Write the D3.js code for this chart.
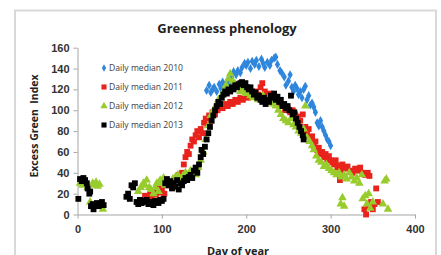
<!DOCTYPE html>
<html>
<head>
<meta charset="utf-8">
<script src="https://cdn.jsdelivr.net/npm/d3@7"></script>
<style>
  body { margin: 0; background: #fff; }
  svg { display: block; font-family: "Open Sans", "Noto Sans", sans-serif; }
</style>
</head>
<body>
<div id="chart"></div>
<script>
// daily median excess green index, [day, value]
let s2010 = [[153,119],[156,124],[158,117],[160,120],[162,122],[165,118],[168,125],[170,121],[172,127],[175,124],[178,129],[180,126],[183,131],[185,137],[188,134],[190,138],[193,136],[195,141],[198,145],[200,143],[202,146],[205,140],[207,147],[210,144],[212,148],[215,142],[218,149],[220,145],[222,141],[225,146],[228,143],[230,148],[233,150],[235,151],[237,144],[240,138],[242,136],[245,132],[247,124],[250,128],[252,134],[254,122],[256,118],[258,124],[260,121],[262,115],[264,118],[266,112],[268,120],[270,123],[272,110],[274,114],[276,105],[278,107],[280,103],[282,98],[284,88],[286,85],[288,90],[290,84],[292,80],[294,76],[296,72],[298,70],[300,66]];

let s2011 = [[80,18],[83,15],[86,20],[88,17],[90,22],[93,19],[96,25],[98,21],[100,24],[103,20],[106,28],[110,30],[113,26],[116,33],[118,35],[120,38],[122,36],[124,40],[126,48],[128,55],[130,60],[132,58],[134,66],[136,72],[138,70],[140,76],[142,80],[144,74],[146,82],[148,78],[150,88],[152,92],[154,86],[156,95],[158,90],[160,98],[163,96],[166,100],[169,104],[172,102],[175,106],[178,104],[181,108],[184,106],[187,110],[190,108],[193,112],[196,110],[199,114],[202,112],[205,116],[208,113],[211,118],[214,115],[217,122],[219,126],[222,118],[225,114],[228,116],[231,110],[234,112],[237,106],[240,104],[243,106],[246,100],[249,102],[252,98],[255,100],[258,96],[261,94],[264,90],[267,96],[270,84],[272,78],[274,82],[276,72],[278,75],[280,66],[282,70],[284,62],[286,64],[288,58],[290,60],[292,55],[294,58],[296,53],[298,56],[300,52],[302,50],[304,48],[306,52],[308,45],[310,47],[311,33],[312,42],[314,48],[316,45],[318,44],[320,46],[323,42],[326,40],[329,44],[332,42],[335,45],[338,40],[341,38],[344,40],[346,37],[340,5],[342,0],[345,8],[348,12],[350,5],[352,10],[354,25],[356,12]];

let s2012 = [[3,30],[6,28],[9,32],[12,26],[15,12],[18,30],[20,28],[22,31],[24,27],[26,29],[28,8],[30,5],[72,22],[75,26],[78,30],[80,28],[82,33],[85,26],[87,24],[90,20],[92,26],[94,30],[96,22],[98,33],[100,30],[102,35],[104,28],[107,32],[110,30],[113,34],[116,36],[119,38],[122,34],[125,37],[128,40],[131,38],[134,42],[137,40],[140,38],[143,45],[146,52],[149,60],[152,72],[155,85],[158,95],[161,100],[164,104],[167,110],[170,112],[173,118],[176,124],[179,130],[181,135],[184,128],[187,125],[190,122],[193,118],[196,120],[199,116],[202,118],[205,114],[208,112],[211,115],[214,110],[217,112],[220,114],[223,110],[226,112],[229,108],[232,106],[235,104],[238,100],[241,96],[244,92],[247,90],[250,88],[253,92],[256,86],[259,84],[262,80],[265,78],[268,82],[270,104],[272,74],[275,70],[278,66],[280,62],[283,56],[286,52],[289,50],[292,46],[295,48],[298,44],[301,42],[304,40],[307,38],[310,40],[313,36],[316,38],[319,34],[322,40],[325,36],[328,32],[331,35],[334,30],[337,38],[312,10],[314,16],[316,8],[338,15],[341,18],[343,10],[345,20],[347,6],[350,12],[362,10],[364,32],[366,34],[368,5]];

let s2013 = [[1,15],[3,34],[5,32],[7,35],[9,33],[11,30],[12,25],[14,20],[15,22],[16,8],[18,10],[19,5],[21,9],[23,11],[25,8],[27,10],[29,12],[31,9],[58,17],[60,20],[62,15],[64,28],[66,26],[68,30],[70,12],[72,10],[74,14],[76,11],[78,13],[80,12],[82,14],[84,10],[86,12],[88,11],[90,9],[92,13],[94,12],[96,11],[98,14],[100,13],[102,15],[104,30],[106,34],[108,28],[110,32],[112,25],[114,30],[116,27],[118,33],[120,24],[122,30],[124,28],[126,32],[128,35],[130,33],[132,36],[134,38],[136,35],[138,42],[140,45],[142,40],[144,48],[146,55],[147,62],[149,58],[151,65],[153,72],[155,78],[157,84],[159,90],[161,95],[163,100],[165,104],[167,108],[169,106],[171,112],[173,115],[175,118],[177,116],[179,120],[181,118],[183,122],[185,120],[187,124],[189,122],[191,125],[193,126],[195,127],[197,124],[199,126],[201,122],[203,120],[205,122],[207,118],[209,115],[211,117],[213,112],[215,114],[217,110],[219,108],[221,112],[223,106],[225,110],[227,108],[229,114],[231,112],[233,116],[235,110],[237,113],[239,108],[241,110],[243,104],[245,106],[247,102],[249,104],[251,100],[253,114],[255,96],[257,98],[259,92],[261,88],[263,84],[265,80],[267,76],[268,72]];

let xTicks = [0, 100, 200, 300, 400];
let yTicks = [0, 20, 40, 60, 80, 100, 120, 140, 160];
let seriesNames = ['Daily median 2010', 'Daily median 2011', 'Daily median 2012', 'Daily median 2013'];

let svgWidth = 441;
let svgHeight = 255;
let margin = { top: 47.7, right: 26, bottom: 40.5, left: 77.5 };
let width = svgWidth - margin.left - margin.right;
let height = svgHeight - margin.top - margin.bottom;

let svg = d3.select('#chart')
    .append('svg')
    .attr('width', svgWidth)
    .attr('height', svgHeight);

// outer frame
svg.append('rect')
    .attr('x', 15).attr('y', 10.5)
    .attr('width', 421).attr('height', 260)
    .attr('fill', 'none')
    .attr('stroke', '#d9d9d9')
    .attr('stroke-width', 2);

let chartgroup = svg.append('g')
    .attr('transform', `translate(${margin.left},${margin.top})`);

let x = d3.scaleLinear().domain([0, 400]).range([0, width]);
let y = d3.scaleLinear().domain([0, 160]).range([height, 0]);

let xAxis = chartgroup.append('g')
    .attr('transform', `translate(0,${height})`)
    .call(d3.axisBottom(x).tickValues(xTicks).tickSize(4).tickSizeOuter(0));
let yAxis = chartgroup.append('g')
    .call(d3.axisLeft(y).tickValues(yTicks).tickSize(4).tickSizeOuter(0));

[xAxis, yAxis].forEach(a => {
    a.selectAll('path, line').attr('stroke', '#a6a6a6');
    a.selectAll('text')
        .attr('font-size', '11px')
        .attr('font-weight', 'bold')
        .attr('fill', '#333');
});
xAxis.selectAll('text').attr('dy', '1.05em');
yAxis.selectAll('text').attr('dx', '-1px');

let colors = ['#2f86dd', '#e8231c', '#98cc2c', '#000000'];
let symbols = [d3.symbolDiamond, d3.symbolSquare, d3.symbolTriangle, d3.symbolSquare];
let sizes = [24, 34, 32, 34];
let legendSizes = [16, 26, 24, 26];
let allSeries = [s2010, s2011, s2012, s2013];

allSeries.forEach((s, i) => {
    chartgroup.append('g')
        .selectAll('path')
        .data(s)
        .enter()
        .append('path')
        .attr('transform', d => `translate(${x(d[0])},${y(d[1])})`)
        .attr('d', d3.symbol().type(symbols[i]).size(sizes[i]))
        .attr('fill', colors[i]);
});

// legend
let legend = svg.append('g').attr('transform', 'translate(104,68)');
seriesNames.forEach((name, i) => {
    let row = legend.append('g').attr('transform', `translate(0,${i * 19})`);
    row.append('path')
        .attr('d', d3.symbol().type(symbols[i]).size(legendSizes[i]))
        .attr('fill', colors[i]);
    row.append('text')
        .attr('x', 5)
        .attr('y', 3)
        .attr('font-size', '8.6px')
        .attr('fill', '#404040')
        .text(name);
});

// titles
svg.append('text')
    .attr('x', 227).attr('y', 33)
    .attr('text-anchor', 'middle')
    .attr('font-size', '13px')
    .attr('font-weight', 'bold')
    .attr('fill', '#222')
    .text('Greenness phenology');

svg.append('text')
    .attr('transform', 'translate(38,126) rotate(-90)')
    .attr('text-anchor', 'middle')
    .attr('font-size', '10.5px')
    .attr('font-weight', 'bold')
    .attr('fill', '#222')
    .attr('xml:space', 'preserve')
    .text('Excess Green  Index');

svg.append('text')
    .attr('x', 238).attr('y', 255)
    .attr('text-anchor', 'middle')
    .attr('font-size', '11px')
    .attr('font-weight', 'bold')
    .attr('fill', '#222')
    .text('Day of year');
</script>
</body>
</html>
